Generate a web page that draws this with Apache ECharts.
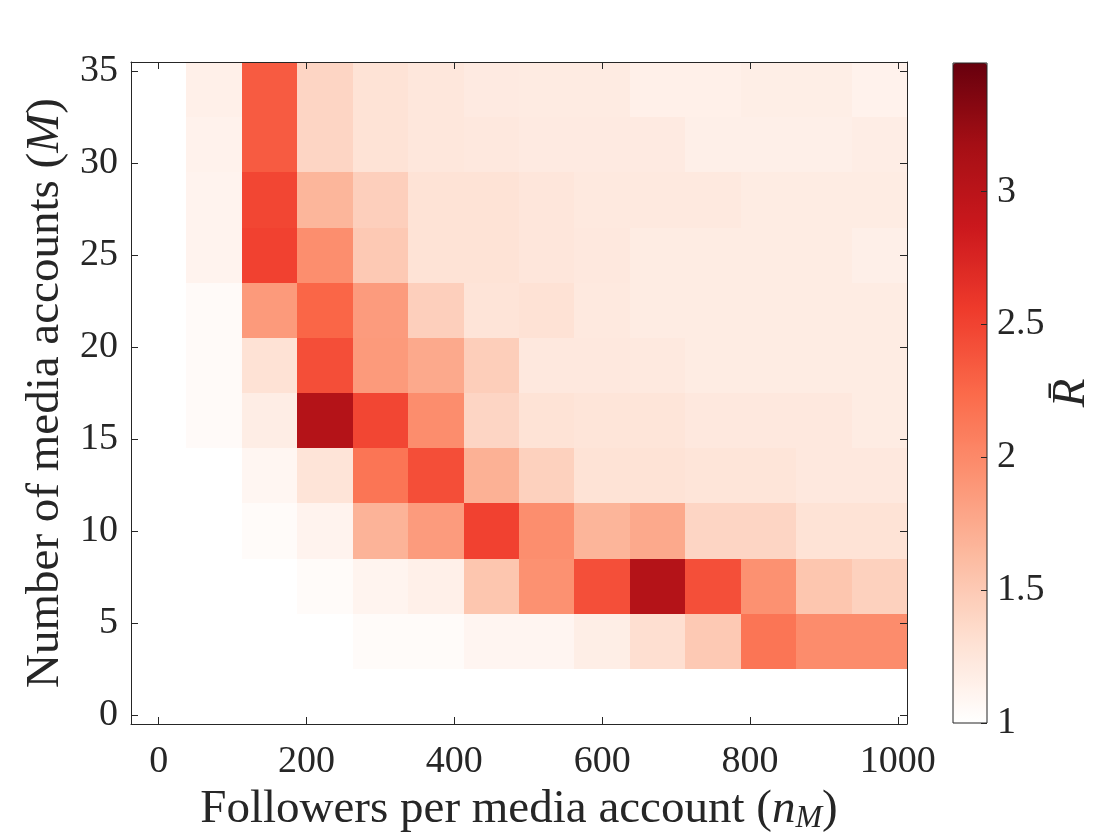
<!DOCTYPE html>
<html>
<head>
<meta charset="utf-8">
<script src="https://cdn.jsdelivr.net/npm/echarts@6/dist/echarts.min.js"></script>
<style>
html,body{margin:0;padding:0;background:#fff;}
#chart{width:1120px;height:840px;}
</style>
</head>
<body>
<div id="chart"></div>
<script>
// Grid centres
const followers = [0, 75, 150, 225, 300, 375, 450, 525, 600, 675, 750, 825, 900, 975];
const mediaAccounts = [1, 4, 7, 10, 13, 16, 19, 22, 25, 28, 31, 34];

// Mean R per row (M value), columns follow `followers`
const rowM1  = [1.00, 1.00, 1.00, 1.00, 1.00, 1.00, 1.00, 1.00, 1.00, 1.00, 1.00, 1.00, 1.00, 1.00];
const rowM4  = [1.00, 1.00, 1.00, 1.00, 1.04, 1.04, 1.10, 1.10, 1.17, 1.32, 1.50, 2.16, 1.98, 1.98];
const rowM7  = [1.00, 1.00, 1.00, 1.04, 1.11, 1.15, 1.53, 1.94, 2.42, 3.05, 2.42, 1.94, 1.53, 1.44];
const rowM10 = [1.00, 1.00, 1.04, 1.12, 1.68, 1.86, 2.51, 1.96, 1.67, 1.76, 1.40, 1.40, 1.28, 1.28];
const rowM13 = [1.00, 1.00, 1.09, 1.27, 2.16, 2.43, 1.70, 1.44, 1.28, 1.28, 1.26, 1.26, 1.23, 1.23];
const rowM16 = [1.00, 1.05, 1.18, 3.05, 2.48, 1.97, 1.40, 1.28, 1.26, 1.26, 1.23, 1.23, 1.23, 1.19];
const rowM19 = [1.00, 1.05, 1.29, 2.43, 1.87, 1.76, 1.46, 1.23, 1.23, 1.22, 1.19, 1.19, 1.19, 1.19];
const rowM22 = [1.00, 1.05, 1.87, 2.27, 1.86, 1.45, 1.27, 1.29, 1.22, 1.19, 1.19, 1.19, 1.19, 1.19];
const rowM25 = [1.00, 1.12, 2.51, 1.96, 1.50, 1.28, 1.28, 1.25, 1.23, 1.19, 1.19, 1.19, 1.19, 1.16];
const rowM28 = [1.00, 1.12, 2.48, 1.66, 1.45, 1.28, 1.28, 1.25, 1.22, 1.22, 1.22, 1.19, 1.19, 1.19];
const rowM31 = [1.00, 1.13, 2.34, 1.40, 1.28, 1.24, 1.23, 1.21, 1.21, 1.21, 1.16, 1.16, 1.16, 1.18];
const rowM34 = [1.00, 1.15, 2.34, 1.40, 1.28, 1.24, 1.21, 1.20, 1.20, 1.15, 1.15, 1.17, 1.17, 1.13];
const rows = [rowM1, rowM4, rowM7, rowM10, rowM13, rowM16, rowM19, rowM22, rowM25, rowM28, rowM31, rowM34];

// Tick labels
const xTicks = [0, 200, 400, 600, 800, 1000];
const yTicks = [0, 5, 10, 15, 20, 25, 30, 35];
const cbTicks = [1, 1.5, 2, 2.5, 3];
const cbMin = 1, cbMax = 3.484;

const reds = ['#ffffff', '#fee0d2', '#fcbba1', '#fc9272', '#fb6a4a', '#ef3b2c', '#cb181d', '#a50f15', '#67000d'];

const data = [];
rows.forEach((r, i) => r.forEach((v, j) => data.push([followers[j], mediaAccounts[i], v])));

const dx = followers[1] - followers[0];
const dy = mediaAccounts[1] - mediaAccounts[0];
const xMin = followers[0] - dx / 2, xMax = followers[followers.length - 1] + dx / 2;
const yMin = mediaAccounts[0] - dy / 2, yMax = mediaAccounts[mediaAccounts.length - 1] + dy / 2;

const FONT = "'Liberation Serif', 'DejaVu Serif', serif";
const INK = '#262626';
const TICK_FS = 38, TITLE_FS = 47;
const plain = v => String(v);

const axisCommon = {
  type: 'value',
  z: 10,
  splitLine: { show: false },
  axisLine: { show: true, onZero: false, lineStyle: { color: INK, width: 1 } },
};

const chart = echarts.init(document.getElementById('chart'), null, { renderer: 'canvas' });
chart.setOption({
  backgroundColor: '#fff',
  animation: false,
  grid: [
    { left: 131, top: 62, width: 776, height: 662, show: false },
    { left: 953, top: 63, width: 34, height: 660, show: true, borderColor: INK, borderWidth: 1, backgroundColor: 'transparent', z: 10 }
  ],
  xAxis: [
    Object.assign({}, axisCommon, {
      gridIndex: 0, position: 'bottom', min: xMin, max: xMax,
      axisTick: { show: true, inside: true, length: 7, lineStyle: { color: INK }, customValues: xTicks },
      axisLabel: { show: true, customValues: xTicks, formatter: plain, fontFamily: FONT, fontSize: TICK_FS, color: INK, margin: 19 },
      name: '{t|Followers per media account (}{i|n}{s|M}{t|)}',
      nameLocation: 'middle', nameGap: 55,
      nameTextStyle: {
        rich: {
          t: { fontFamily: FONT, fontSize: TITLE_FS, color: INK, lineHeight: 50, verticalAlign: 'middle' },
          i: { fontFamily: FONT, fontSize: TITLE_FS, fontStyle: 'italic', color: INK, lineHeight: 50, verticalAlign: 'middle' },
          s: { fontFamily: FONT, fontSize: 32, fontStyle: 'italic', color: INK, lineHeight: 22, verticalAlign: 'bottom' }
        }
      }
    }),
    Object.assign({}, axisCommon, {
      gridIndex: 0, position: 'top', min: xMin, max: xMax,
      axisTick: { show: true, inside: true, length: 7, lineStyle: { color: INK }, customValues: xTicks },
      axisLabel: { show: false }
    }),
    { gridIndex: 1, type: 'value', show: false, min: 0, max: 1 }
  ],
  yAxis: [
    Object.assign({}, axisCommon, {
      gridIndex: 0, position: 'left', min: yMin, max: yMax,
      axisTick: { show: true, inside: true, length: 7, lineStyle: { color: INK }, customValues: yTicks },
      axisLabel: { show: true, customValues: yTicks, formatter: plain, fontFamily: FONT, fontSize: TICK_FS, color: INK, margin: 13 },
      name: '{t|Number of media accounts (}{i|M}{t|)}',
      nameLocation: 'middle', nameGap: 60, nameRotate: 90,
      nameTextStyle: {
        rich: {
          t: { fontFamily: FONT, fontSize: TITLE_FS, color: INK, lineHeight: 50 },
          i: { fontFamily: FONT, fontSize: TITLE_FS, fontStyle: 'italic', color: INK, lineHeight: 50 }
        }
      }
    }),
    Object.assign({}, axisCommon, {
      gridIndex: 0, position: 'right', min: yMin, max: yMax,
      axisTick: { show: true, inside: true, length: 7, lineStyle: { color: INK }, customValues: yTicks },
      axisLabel: { show: false }
    }),
    {
      gridIndex: 1, type: 'value', position: 'right', min: cbMin, max: cbMax, z: 10,
      splitLine: { show: false },
      axisLine: { show: false, onZero: false },
      axisTick: { show: true, inside: true, length: 6, lineStyle: { color: INK }, customValues: cbTicks },
      axisLabel: { show: true, customValues: cbTicks, formatter: plain, fontFamily: FONT, fontSize: TICK_FS, color: INK, margin: 10 },
      name: '{r|R\u0304}',
      nameLocation: 'middle', nameGap: 56, nameRotate: 90,
      nameTextStyle: { rich: { r: { fontFamily: FONT, fontSize: TITLE_FS, fontStyle: 'italic', color: INK } } }
    }
  ],
  visualMap: {
    type: 'continuous',
    min: cbMin, max: cbMax,
    dimension: 2,
    seriesIndex: 0,
    orient: 'vertical',
    left: 953, top: 63,
    itemWidth: 34, itemHeight: 660,
    padding: 0,
    calculable: false,
    hoverLink: false,
    realtime: false,
    text: null,
    showLabel: false,
    inRange: { color: reds }
  },
  series: [{
    type: 'custom',
    xAxisIndex: 0, yAxisIndex: 0,
    z: 1,
    data: data,
    encode: { x: 0, y: 1 },
    renderItem: function (params, api) {
      const x = api.value(0), y = api.value(1);
      const p0 = api.coord([x - dx / 2, y + dy / 2]);
      const p1 = api.coord([x + dx / 2, y - dy / 2]);
      const x0 = Math.round(p0[0]), y0 = Math.round(p0[1]);
      const x1 = Math.round(p1[0]), y1 = Math.round(p1[1]);
      return {
        type: 'rect',
        shape: { x: x0, y: y0, width: x1 - x0, height: y1 - y0 },
        style: { fill: api.visual('color'), stroke: null }
      };
    }
  }]
});
</script>
</body>
</html>
